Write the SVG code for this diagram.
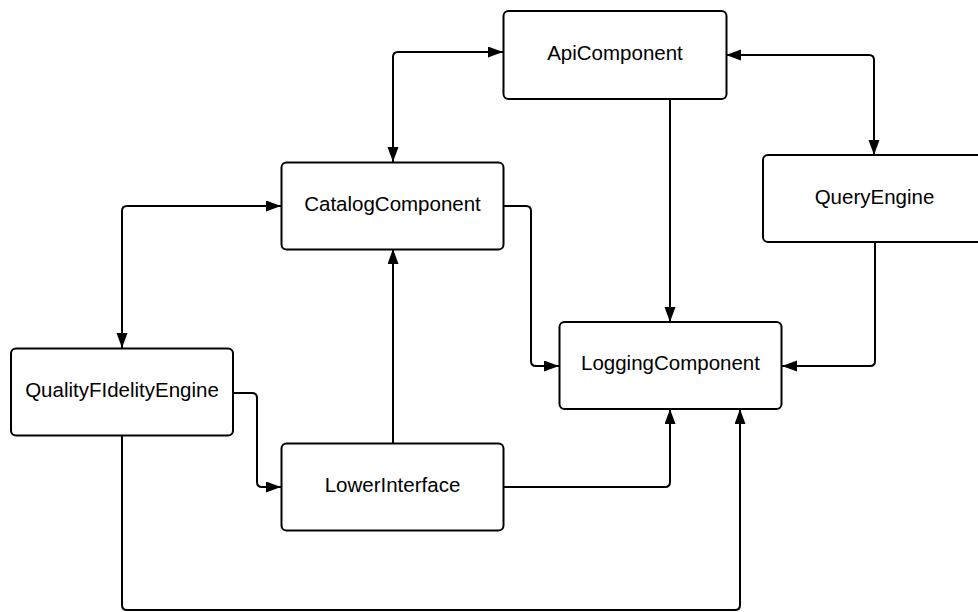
<svg xmlns="http://www.w3.org/2000/svg" width="978" height="612" viewBox="0 0 978 612">
  <defs>
    <marker id="arrow" markerUnits="userSpaceOnUse" markerWidth="16" markerHeight="12" refX="15" refY="5.5" orient="auto-start-reverse">
      <path d="M0,0 L15,5.5 L0,11 Z" fill="#000"/>
    </marker>
    <style>
      .box { fill: #fff; stroke: #000; stroke-width: 2; }
      .label { font-family: "Liberation Sans", Arial, sans-serif; font-size: 20.5px; fill: #000; text-anchor: middle; }
      .wire { fill: none; stroke: #000; stroke-width: 2; }
      .end { marker-end: url(#arrow); }
      .both { marker-start: url(#arrow); marker-end: url(#arrow); }
    </style>
  </defs>
  <rect width="978" height="612" fill="#fff"/>

  <!-- connectors -->
  <g id="connectors">
    <!-- ApiComponent <-> CatalogComponent -->
    <path class="wire both" d="M503,52 H398 Q393,52 393,57 V162"/>
    <!-- ApiComponent <-> QueryEngine -->
    <path class="wire both" d="M726,55 H869 Q874,55 874,60 V155"/>
    <!-- ApiComponent -> LoggingComponent -->
    <path class="wire end" d="M670,99 V322"/>
    <!-- CatalogComponent <-> QualityFIdelityEngine -->
    <path class="wire both" d="M281,206 H127 Q122,206 122,211 V348"/>
    <!-- CatalogComponent -> LoggingComponent -->
    <path class="wire end" d="M503,206 H526 Q531,206 531,211 V361 Q531,366 536,366 H559"/>
    <!-- QueryEngine -> LoggingComponent -->
    <path class="wire end" d="M875,242 V361 Q875,366 870,366 H782"/>
    <!-- QualityFIdelityEngine -> LowerInterface -->
    <path class="wire end" d="M233,393 H252 Q257,393 257,398 V482 Q257,487 262,487 H281"/>
    <!-- LowerInterface -> CatalogComponent -->
    <path class="wire end" d="M393,443 V249"/>
    <!-- LowerInterface -> LoggingComponent -->
    <path class="wire end" d="M503,487 H665 Q670,487 670,482 V409"/>
    <!-- QualityFIdelityEngine -> LoggingComponent -->
    <path class="wire end" d="M122,436 V605 Q122,610 127,610 H735 Q740,610 740,605 V409"/>
  </g>

  <g id="api-component">
    <rect class="box" x="503.5" y="11" width="223" height="88" rx="5"/>
    <text class="label" x="615" y="60">ApiComponent</text>
  </g>
  <g id="catalog-component">
    <rect class="box" x="281.5" y="162.5" width="222" height="87" rx="5"/>
    <text class="label" x="392.5" y="211">CatalogComponent</text>
  </g>
  <g id="query-engine">
    <rect class="box" x="763" y="155" width="223" height="87" rx="5"/>
    <text class="label" x="874.5" y="204">QueryEngine</text>
  </g>
  <g id="quality-fidelity-engine">
    <rect class="box" x="11" y="348.5" width="222" height="87" rx="5"/>
    <text class="label" x="122" y="397">QualityFIdelityEngine</text>
  </g>
  <g id="logging-component">
    <rect class="box" x="559.5" y="322" width="222" height="87" rx="5"/>
    <text class="label" x="670.5" y="370">LoggingComponent</text>
  </g>
  <g id="lower-interface">
    <rect class="box" x="281.5" y="443.5" width="222" height="87" rx="5"/>
    <text class="label" x="392.5" y="492">LowerInterface</text>
  </g>
</svg>
